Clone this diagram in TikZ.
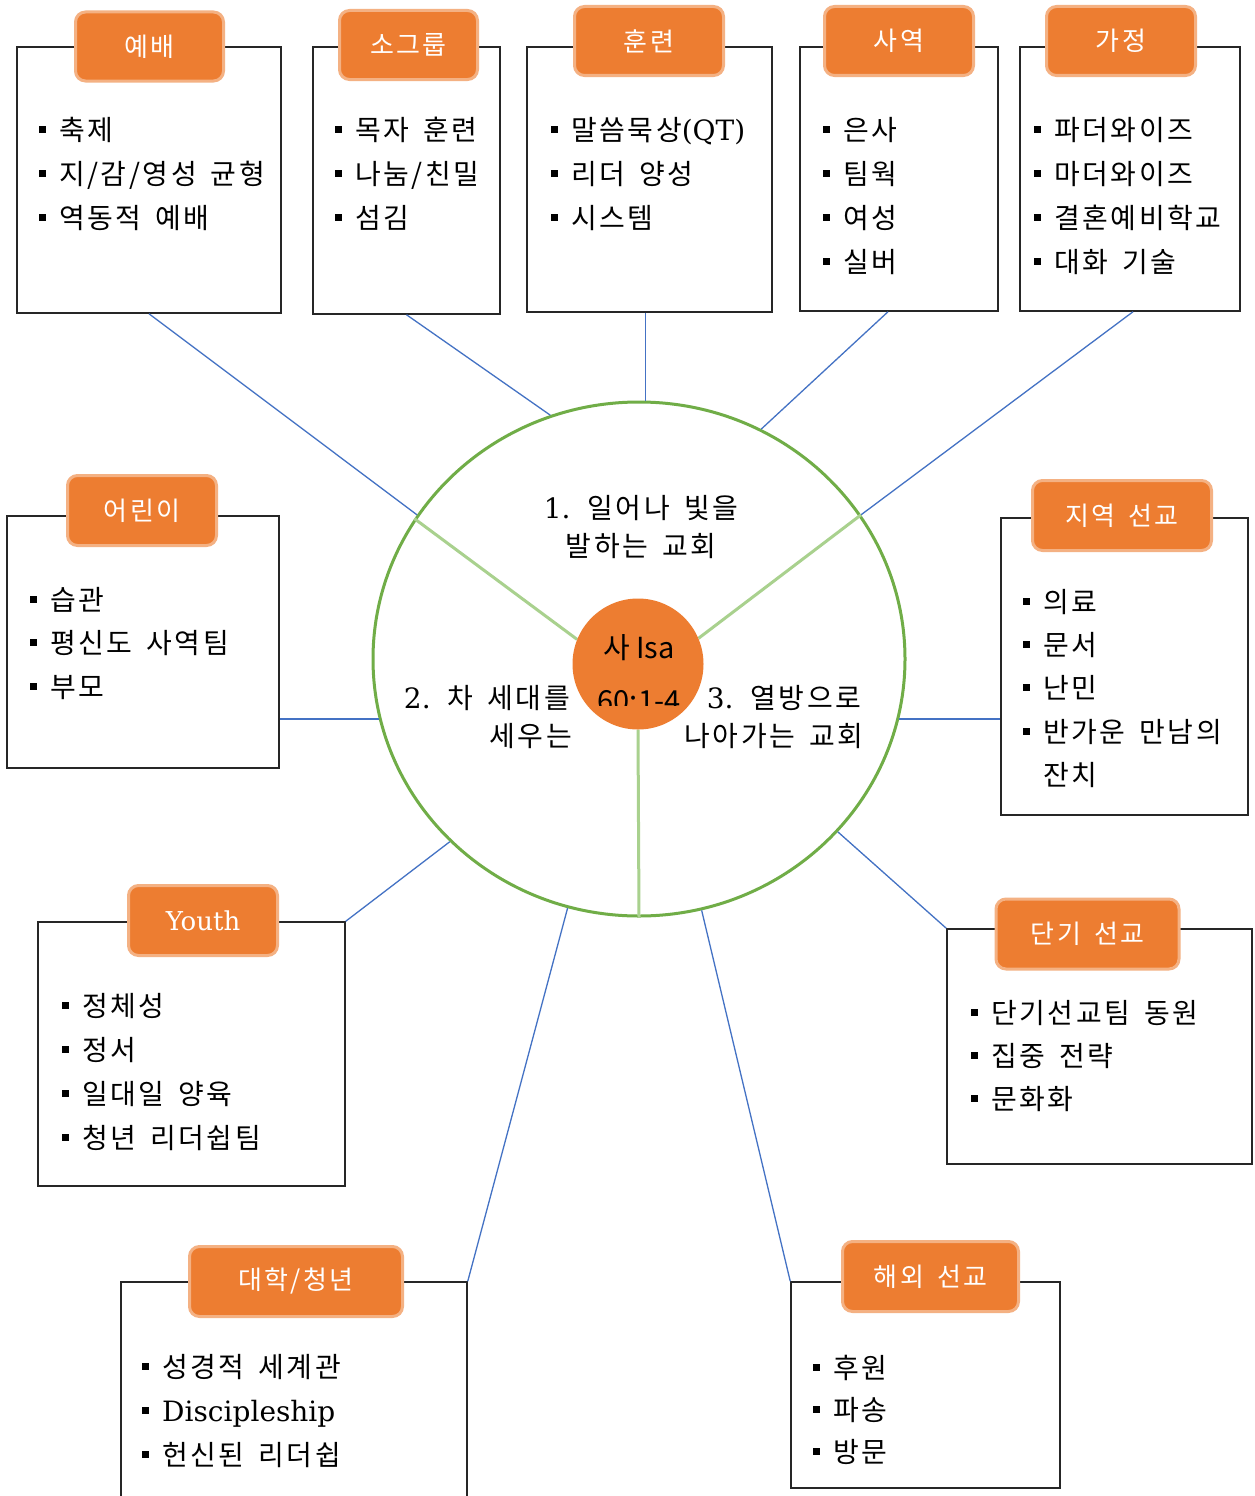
\documentclass[tikz,border=0pt]{standalone}
\usepackage{fontspec}
\setmainfont[WordSpace=1.6, LetterSpace=9]{Noto Sans CJK KR}
\newfontfamily\isafont{Noto Sans CJK KR}
\newfontfamily\lser{DejaVu Serif}
\usetikzlibrary{shapes.geometric}
\definecolor{orng}{HTML}{ED7D31}
\definecolor{orngline}{HTML}{F4B183}
\definecolor{grn}{HTML}{70AD47}
\definecolor{lgrn}{HTML}{A9D18E}
\definecolor{blu}{HTML}{4472C4}
\newcommand{\bul}{\makebox[20pt][l]{\raisebox{7pt}{\rule{7pt}{7pt}}}}
\tikzset{
  box/.style={draw=black!85, line width=1.5pt, rectangle, inner sep=0pt, fill=white},
  tab/.style={rectangle, rounded corners=10pt, fill=orng, draw=orngline, line width=3pt,
    text=white, font=\fontsize{26}{30}\selectfont, inner sep=0pt},
  item/.style={anchor=west, inner sep=0pt, font=\fontsize{28}{34}\selectfont,
    text height=23pt, text depth=3pt},
  ctext/.style={inner sep=0pt, font=\fontsize{28}{34}\selectfont, text height=23pt, text depth=3pt},
  conn/.style={draw=blu, line width=1.3pt},
  spoke/.style={draw=lgrn, line width=3pt},
}
\begin{document}
\begin{tikzpicture}[x=1pt, y=-1pt]
\useasboundingbox (0,0) rectangle (1254,1496);
\clip (0,0) rectangle (1254,1496);
\fill[white] (0,0) rectangle (1254,1496);

% boxes
\node[box, minimum width=264pt, minimum height=266pt] (yebae) at (149,180) {};
\node[box, minimum width=187pt, minimum height=267pt] (sogroup) at (406.5,180.5) {};
\node[box, minimum width=245pt, minimum height=265pt] (hunryeon) at (649.5,179.5) {};
\node[box, minimum width=198pt, minimum height=264pt] (sayeok) at (899,179) {};
\node[box, minimum width=220pt, minimum height=264pt] (gajeong) at (1130,179) {};
\node[box, minimum width=272pt, minimum height=252pt] (eorini) at (143,642) {};
\node[box, minimum width=247pt, minimum height=297pt] (jiyeok) at (1124.5,666.5) {};
\node[box, minimum width=307pt, minimum height=264pt] (youth) at (191.5,1054) {};
\node[box, minimum width=305pt, minimum height=235pt] (dangi) at (1099.5,1046.5) {};
\node[box, minimum width=346pt, minimum height=240pt] (daehak) at (294,1402) {};
\node[box, minimum width=269pt, minimum height=206pt] (haeoe) at (925.5,1385) {};

% tabs
\node[tab, minimum width=148pt, minimum height=69pt] (tyebae) at (149.5,46.5) {예배};
\node[tab, minimum width=138pt, minimum height=69pt] (tsogroup) at (408.5,45) {소그룹};
\node[tab, minimum width=149pt, minimum height=69pt] (thunryeon) at (649,41) {훈련};
\node[tab, minimum width=149pt, minimum height=69pt] (tsayeok) at (899,41) {사역};
\node[tab, minimum width=149pt, minimum height=69pt] (tgajeong) at (1121,41) {가정};
\node[tab, minimum width=149pt, minimum height=70pt] (teorini) at (142,510.5) {어린이};
\node[tab, minimum width=179pt, minimum height=70pt] (tjiyeok) at (1122,515.5) {지역 선교};
\node[tab, minimum width=149pt, minimum height=70pt] (tyouth) at (203,920.5) {{\lser Youth}};
\node[tab, minimum width=183pt, minimum height=70pt] (tdangi) at (1087.5,934) {단기 선교};
\node[tab, minimum width=213pt, minimum height=70pt] (tdaehak) at (296,1281.5) {대학/청년};
\node[tab, minimum width=176pt, minimum height=70pt] (thaeoe) at (930.5,1276.5) {해외 선교};

% items
\node[item] (y1) at (39,130) {\bul 축제};
\node[item] (y2) at (39,174) {\bul 지/감/영성 균형};
\node[item] (y3) at (39,218) {\bul 역동적 예배};

\node[item] (s1) at (335,130) {\bul 목자 훈련};
\node[item] (s2) at (335,174) {\bul 나눔/친밀};
\node[item] (s3) at (335,218) {\bul 섬김};

\node[item] (h1) at (551,130) {\bul 말씀묵상{\lser (QT)}};
\node[item] (h2) at (551,174) {\bul 리더 양성};
\node[item] (h3) at (551,218) {\bul 시스템};

\node[item] (a1) at (823,130) {\bul 은사};
\node[item] (a2) at (823,174) {\bul 팀웍};
\node[item] (a3) at (823,218) {\bul 여성};
\node[item] (a4) at (823,262) {\bul 실버};

\node[item] (g1) at (1034,130) {\bul 파더와이즈};
\node[item] (g2) at (1034,174) {\bul 마더와이즈};
\node[item] (g3) at (1034,218) {\bul 결혼예비학교};
\node[item] (g4) at (1034,262) {\bul 대화 기술};

\node[item] (e1) at (30,600) {\bul 습관};
\node[item] (e2) at (30,643) {\bul 평신도 사역팀};
\node[item] (e3) at (30,687) {\bul 부모};

\node[item] (j1) at (1023,602) {\bul 의료};
\node[item] (j2) at (1023,645) {\bul 문서};
\node[item] (j3) at (1023,688) {\bul 난민};
\node[item] (j4) at (1023,732) {\bul 반가운 만남의};
\node[item] (j5) at (1043,775) {잔치};

\node[item] (u1) at (62,1006) {\bul 정체성};
\node[item] (u2) at (62,1050) {\bul 정서};
\node[item] (u3) at (62,1094) {\bul 일대일 양육};
\node[item] (u4) at (62,1138) {\bul 청년 리더쉽팀};

\node[item] (d1) at (971,1013) {\bul 단기선교팀 동원};
\node[item] (d2) at (971,1056) {\bul 집중 전략};
\node[item] (d3) at (971,1099) {\bul 문화화};

\node[item] (c1) at (142,1367) {\bul 성경적 세계관};
\node[item] (c2) at (142,1411) {\bul {\lser Discipleship}};
\node[item] (c3) at (142,1455) {\bul 헌신된 리더쉽};

\node[item] (o1) at (813,1368) {\bul 후원};
\node[item] (o2) at (813,1410) {\bul 파송};
\node[item] (o3) at (813,1452) {\bul 방문};

% central circle
\node[ellipse, draw=grn, line width=3pt, minimum width=532pt, minimum height=514pt, inner sep=0pt] (big) at (639,659) {};

% connectors
\draw[conn] (yebae.south) -- (big.147);
\draw[conn] (sogroup.south) -- (big.110);
\draw[conn] ([xshift=-4pt]hunryeon.south) -- ([xshift=-4pt]hunryeon.south |- big.north);
\draw[conn] ([xshift=-11pt]sayeok.south) -- (big.62.5);
\draw[conn] ([xshift=3pt]gajeong.south) -- (big.33.6);
\draw[conn] (eorini.east |- big.193) -- (big.193);
\draw[conn] (big.347.5) -- (big.347.5 -| jiyeok.west);
\draw[conn] (youth.north east) -- (big.224);
\draw[conn] (dangi.north west) -- (big.319);
\draw[conn] (daehak.north east) -- (big.254);
\draw[conn] (haeoe.north west) -- (big.284);

% small circle and spokes
\node[circle, minimum size=131pt, inner sep=0pt] (small) at (638,664) {};
\draw[spoke] (small.158) -- (big.148);
\draw[spoke] (small.23) -- (big.33);
\draw[spoke] (small.270) -- (big.270);
\fill[orng] (small.center) circle (65.5);

\begin{scope}
\clip (570,600) rectangle (710,705);
\node[font=\isafont\fontsize{29}{34}\selectfont, anchor=base, inner sep=0pt] (isa) at (639,658) {사 Isa};
\node[font=\isafont\fontsize{29}{34}\selectfont, anchor=base, inner sep=0pt] (isaref) at (639,711) {60:1-4};
\end{scope}

% circle texts
\node[ctext] (t1a) at (641,508) {{\lser 1.} 일어나 빛을};
\node[ctext] (t1b) at (641,546) {발하는 교회};
\node[ctext, anchor=east] (t2a) at (570,698) {{\lser 2.} 차 세대를};
\node[ctext, anchor=east] (t2b) at (572,736) {세우는};
\node[ctext] (t3a) at (784,698) {{\lser 3.} 열방으로};
\node[ctext] (t3b) at (774,736) {나아가는 교회};
\end{tikzpicture}
\end{document}
